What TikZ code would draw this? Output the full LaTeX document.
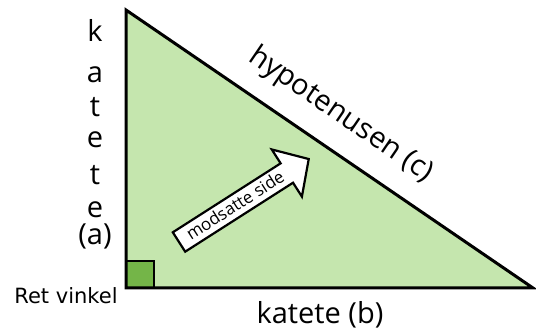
\documentclass[tikz,border=0pt]{standalone}
\usepackage{fontspec}
\setmainfont{Open Sans}
\newfontfamily\retfont{DejaVu Sans}
\definecolor{lightgr}{HTML}{C5E6AE}
\definecolor{darkgr}{HTML}{74B548}
\begin{document}
\begin{tikzpicture}[x=1pt,y=1pt,
  edge/.style={draw=black,line width=3pt,line join=miter},
  lbl/.style={inner sep=0pt,font=\fontsize{29}{31}\selectfont}]
\useasboundingbox (0,0) rectangle (536,331);
% triangle
\coordinate (A) at (126,321);
\coordinate (C) at (126,43);
\coordinate (B) at (533,43);
\path[fill=lightgr] (A) -- (C) -- (B) -- cycle;
\coordinate (S1) at (126,43);
\coordinate (S2) at (154,70);
\path[edge,fill=darkgr,line width=2.5pt] (S1) rectangle (S2);
\path[edge] (A) -- (C) -- (B) -- cycle;
% arrow
\begin{scope}[shift={(179,89)},rotate=32.6]
\path[draw=black,fill=white,line width=2.2pt,line join=miter]
  (0,-11.5) -- (128,-11.5) -- (128,-28) -- (154,0) -- (128,28) -- (128,11.5) -- (0,11.5) -- cycle;
\node[inner sep=0pt,transform shape,font=\fontsize{17}{19}\selectfont] (ms) at (67,1) {modsatte side};
\end{scope}
% labels
\node[lbl,rotate=-34.3] (hyp) at (341,216) {hypotenusen (c)};
\node[lbl,anchor=base] (kb) at (320,7) {katete (b)};
\node[inner sep=0pt,anchor=base,font=\retfont\fontsize{21}{23}\selectfont] (rv) at (66,27) {Ret vinkel};
\foreach \ch/\yy [count=\i] in {k/289,a/248,t/214,e/183,t/146,e/113,(a)/86}
  \node[lbl,anchor=base] (ka\i) at (95,\yy) {\ch};
\end{tikzpicture}
\end{document}
